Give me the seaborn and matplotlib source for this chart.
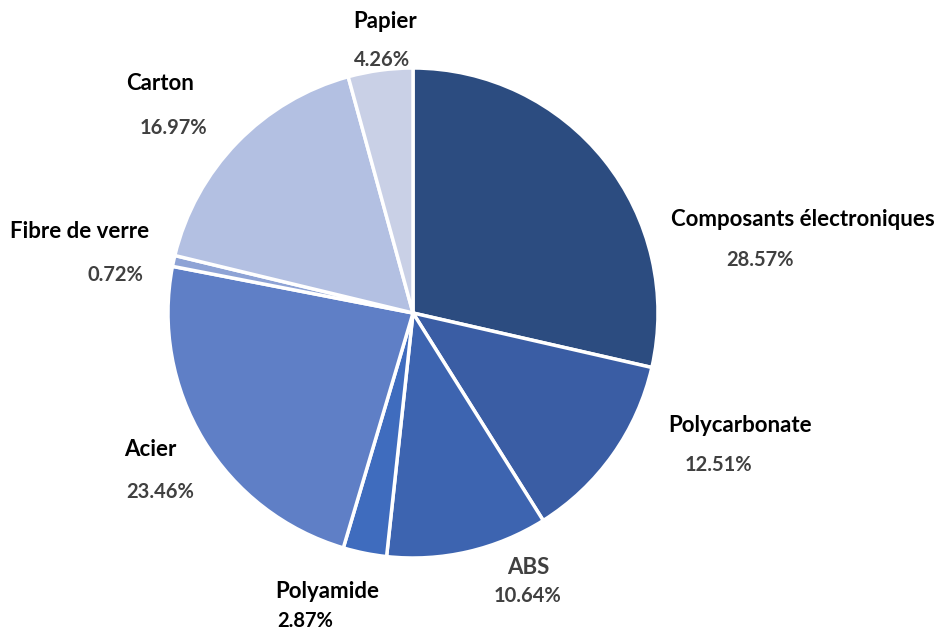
import matplotlib
matplotlib.use("Agg")
import matplotlib.pyplot as plt
import seaborn as sns

categories = ["Composants électroniques", "Polycarbonate", "ABS", "Polyamide",
              "Acier", "Fibre de verre", "Carton", "Papier"]
values = [28.57, 12.51, 10.64, 2.87, 23.46, 0.72, 16.97, 4.26]
colors = ["#2C4C80", "#3A5DA4", "#3D64B0", "#3F6CBE",
          "#5F7FC6", "#8EA3D5", "#B3C0E2", "#C9D0E6"]

# label positions in pixels (name, percent), top-left origin
name_pos = [(803, 220), (740, 425), (528, 568), (327, 591),
            (150, 450), (80, 232), (160, 84), (385, 22)]
pct_pos = [(760, 260), (718, 465), (528, 596), (305, 621),
           (160, 492), (115, 275), (173, 128), (382, 60)]
name_colors = ["black", "black", "#404040", "black", "black", "black", "black", "black"]
pct_colors = ["#404040", "#404040", "#404040", "black", "#404040", "#404040", "#404040", "#404040"]

sns.set_theme(style="white")
plt.rcParams['font.family'] = ['Lato', 'DejaVu Sans']

W, H = 940, 632
fig = plt.figure(figsize=(W / 100, H / 100), dpi=100)
ax = fig.add_axes([0, 0, 1, 1])

ax.pie(values, colors=sns.color_palette(colors), startangle=90, counterclock=False,
       center=(413, H - 313), radius=245, frame=True,
       wedgeprops=dict(edgecolor="white", linewidth=2.5))
ax.set_xlim(0, W)
ax.set_ylim(0, H)
ax.set_aspect("equal")
ax.axis("off")

for i, cat in enumerate(categories):
    nx, ny = name_pos[i]
    px, py = pct_pos[i]
    ax.text(nx, H - ny, cat, ha="center", va="center", fontsize=16,
            fontweight="bold", color=name_colors[i])
    ax.text(px, H - py, f"{values[i]:.2f}%", ha="center", va="center", fontsize=14.5,
            fontweight="bold", color=pct_colors[i])

fig.savefig("out.png", dpi=100, facecolor="white")
